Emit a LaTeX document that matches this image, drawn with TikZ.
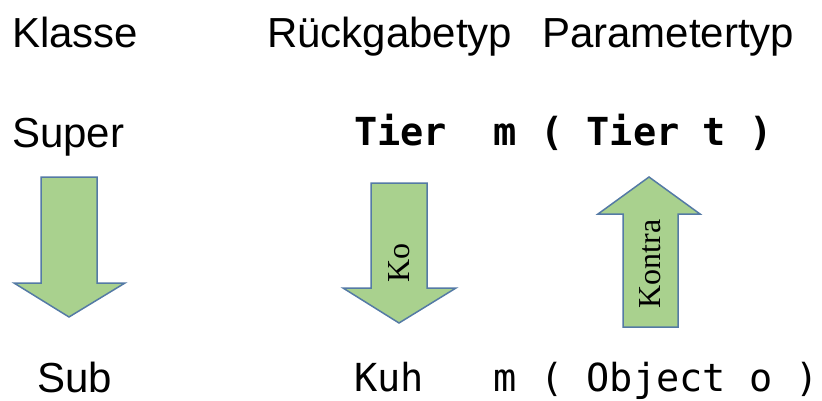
\documentclass[tikz,border=0pt]{standalone}
\usepackage{fontspec}
\setmainfont{Liberation Sans}
\newfontfamily\codefont{DejaVu Sans Mono}
\newfontfamily\labelfont{Liberation Serif}
\definecolor{arrowfill}{RGB}{169,209,142}
\definecolor{arrowline}{RGB}{84,122,165}
\tikzset{
  heading/.style={inner sep=0pt, anchor=base west, font=\fontsize{42}{46}\selectfont},
  code/.style={inner sep=0pt, anchor=base west, font=\codefont\fontsize{38.6}{42}\selectfont},
  codebold/.style={code, font=\codefont\bfseries\fontsize{38.6}{42}\selectfont},
  blockarrow/.style={fill=arrowfill, draw=arrowline, line width=1.5pt, line join=miter},
  arrowlabel/.style={inner sep=0pt, rotate=90, font=\labelfont\fontsize{32}{34}\selectfont}
}
\begin{document}
\begin{tikzpicture}[x=1pt, y=-1pt]
  \useasboundingbox (0,0) rectangle (822,401);

  % column headings
  \node[heading] (klasse) at (12,48) {Klasse};
  \node[heading] (rueck) at (267,48) {Rückgabetyp};
  \node[heading] (param) at (542,48) {Parametertyp};

  % class names
  \node[heading] (super) at (12,148) {Super};
  \node[heading] (sub) at (37,392) {Sub};

  % method signatures
  \node[codebold] (sigsuper) at (354,146) {Tier~~m~(~Tier~t~)};
  \node[code] (sigsub) at (354,391) {Kuh~~~m~(~Object~o~)};

  % class hierarchy: downwards
  \draw[blockarrow] (41,177) -- (97,177) -- (97,283) -- (125,283) -- (69,317)
    -- (14,283) -- (41,283) -- cycle;

  % return type: covariant, downwards
  \draw[blockarrow] (371,183) -- (427,183) -- (427,288) -- (456,288) -- (399,323)
    -- (343,288) -- (371,288) -- cycle;
  \node[arrowlabel] (ko) at (399,263) {Ko};

  % parameter type: contravariant, upwards
  \draw[blockarrow] (649,177) -- (700,214) -- (678,214) -- (678,327) -- (623,327)
    -- (623,214) -- (598,214) -- cycle;
  \node[arrowlabel] (kontra) at (650,264) {Kontra};
\end{tikzpicture}
\end{document}
